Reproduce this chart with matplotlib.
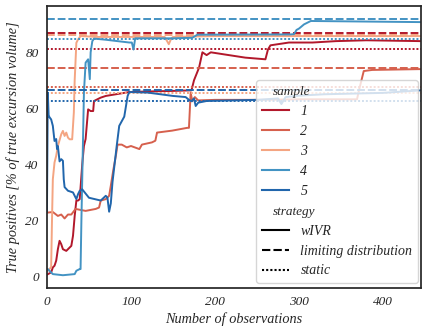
import matplotlib

matplotlib.use("Agg")
import matplotlib.pyplot as plt
from matplotlib.lines import Line2D
from matplotlib import offsetbox

# --- data ---
samples = ["1", "2", "3", "4", "5"]
colors = ["#b2182b", "#d6604d", "#f4a582", "#4393c3", "#2166ac"]

x1 = [0, 5, 7, 9, 11, 13, 15, 17, 19, 23, 27, 29, 31, 33, 35, 37, 39, 42, 44, 46, 49,
      52, 55, 56, 60, 64, 70, 82, 94, 98, 120, 150, 172, 175, 181, 185, 190, 195, 210,
      236, 260, 263, 266, 288, 316, 344, 380, 445]
y1 = [0.5, 1.3, 3.1, 3.7, 5.5, 9.6, 12.6, 11.4, 9.6, 9.0, 10.2, 10.8, 14.4, 21.5, 27.0,
      27.0, 27.5, 40.0, 46.5, 49.0, 59.6, 59.0, 59.0, 62.6, 63.2, 63.8, 64.4, 65.0, 65.6,
      65.8, 66.0, 66.2, 66.4, 70.0, 74.5, 80.0, 79.0, 80.0, 79.3, 78.1, 77.5, 81.0, 82.5,
      83.5, 83.5, 84.0, 84.3, 84.0]

x2 = [0, 1, 7, 13, 17, 21, 25, 29, 34, 46, 58, 62, 64, 70, 74, 76, 79, 82, 84, 89, 95,
      100, 110, 113, 125, 129, 131, 149, 167, 169, 171, 173, 176, 180, 200, 250, 300,
      340, 369, 371, 377, 387, 445]
y2 = [22.7, 22.7, 22.9, 21.5, 22.0, 20.6, 22.0, 22.0, 24.0, 23.3, 24.0, 24.5, 27.0,
      27.5, 28.7, 32.3, 38.0, 43.0, 47.0, 47.0, 46.0, 46.5, 45.4, 47.0, 47.8, 48.4, 51.3,
      52.0, 53.0, 53.0, 65.6, 62.5, 64.0, 62.8, 63.0, 63.0, 63.2, 63.2, 63.2, 66.0, 73.3,
      73.7, 74.0]

x3 = [0, 1, 3, 5, 6, 7, 9, 11, 13, 17, 19, 21, 23, 25, 27, 30, 32, 33, 35, 37, 40, 60,
      100, 140, 143, 145, 148, 150, 200, 300, 445]
y3 = [1.9, 1.9, 2.5, 3.2, 20.0, 34.6, 40.6, 43.0, 46.5, 50.7, 51.9, 50.1, 51.3, 49.5,
      48.9, 48.9, 58.5, 70.0, 83.4, 84.6, 85.8, 85.5, 85.5, 85.5, 84.0, 82.9, 85.0, 85.5,
      85.8, 85.8, 85.8]

x4 = [0, 1, 3, 7, 19, 33, 35, 39, 40, 41, 43, 44, 46, 49, 51, 52, 54, 56, 70, 98, 101,
      103, 105, 150, 173, 179, 290, 294, 297, 300, 306, 314, 445]
y4 = [2.5, 2.5, 1.9, 0.7, 0.3, 0.7, 1.9, 2.5, 2.5, 20.0, 50.0, 65.6, 76.3, 77.5, 70.4,
      80.0, 84.0, 84.9, 84.5, 83.5, 83.5, 81.0, 85.0, 85.0, 85.2, 86.3, 86.4, 86.5, 88.0,
      88.5, 90.0, 91.2, 90.8]

x5 = [0, 1, 2, 3, 5, 7, 9, 11, 12, 13, 15, 17, 19, 20, 21, 25, 31, 33, 35, 37, 39, 42,
      50, 64, 70, 72, 74, 76, 78, 83, 86, 92, 96, 98, 120, 150, 165, 169, 172, 175, 177,
      180, 190, 250, 275, 279, 284, 300, 330, 400, 445]
y5 = [23.0, 65.6, 57.5, 56.8, 56.0, 53.7, 48.3, 49.0, 45.4, 46.5, 41.0, 41.8, 41.2,
      34.6, 31.8, 30.5, 29.9, 28.7, 27.5, 29.3, 30.5, 31.0, 28.0, 27.0, 28.7, 28.0, 23.0,
      26.0, 33.6, 46.5, 53.7, 57.0, 64.4, 65.8, 65.6, 64.4, 64.0, 63.0, 62.5, 63.5, 60.8,
      62.0, 62.6, 63.0, 63.5, 61.5, 64.0, 64.5, 65.0, 65.5, 66.4]

limiting = [86.8, 74.4, 86.1, 92.0, 66.4]
static = [81.1, 67.6, 65.4, 84.6, 62.7]
x_range = [0, 445]

strategies = ["wIVR", "limiting distribution", "static"]
dash_styles = ["-", (0, (4, 1.5)), (0, (1, 1))]

plt.rcParams.update({
    "font.family": ["Liberation Serif", "DejaVu Serif"],
    "font.style": "italic",
    "axes.edgecolor": "#262626",
    "axes.linewidth": 1.25,
    "xtick.color": "#262626",
    "ytick.color": "#262626",
    "axes.labelcolor": "#262626",
    "text.color": "#262626",
})

fig = plt.figure(figsize=(4.23, 3.27), dpi=100)
ax = fig.add_axes([0.111, 0.119, 0.884, 0.863])

curves = [(x1, y1), (x2, y2), (x3, y3), (x4, y4), (x5, y5)]
for i, (xs, ys) in enumerate(curves):
    c = colors[i]
    ax.plot(xs, ys, color=c, lw=1.4, linestyle=dash_styles[0])
    ax.plot(x_range, [limiting[i]] * 2, color=c, lw=1.4, linestyle=dash_styles[1])
    ax.plot(x_range, [static[i]] * 2, color=c, lw=1.4, linestyle=dash_styles[2])

ax.set_xlim(0, 445)
ax.set_ylim(-4.3, 96.6)
ax.set_xticks([0, 100, 200, 300, 400])
ax.set_yticks([0, 20, 40, 60, 80])
ax.tick_params(length=0, labelsize=9.5, pad=6)
ax.set_xlabel("Number of observations", fontsize=10.3, labelpad=3)
ax.set_ylabel("True positives [% of true excursion volume]", fontsize=10.3, labelpad=4)

# seaborn-style legend with subtitles
blank = Line2D([], [], visible=False)
handles = [blank] + [Line2D([], [], color=c, lw=1.5) for c in colors]
labels = ["sample"] + samples
handles += [blank] + [Line2D([], [], color="k", lw=1.5, linestyle=s) for s in dash_styles]
labels += ["strategy"] + strategies
leg = ax.legend(handles, labels, loc="lower right", fontsize=10, framealpha=0.8,
                labelspacing=0.5, borderaxespad=0,
                bbox_to_anchor=(418 / 423, 1 - 283 / 327),
                bbox_transform=fig.transFigure)
col = leg.findobj(offsetbox.VPacker)[0]
for hp in col.get_children():
    da, ta = hp.get_children()
    if not all(a.get_visible() for a in da.get_children()):
        da.set_width(0)
        for t in ta.get_children():
            t.set_fontsize(9.5)

fig.savefig("out.png", dpi=100)
